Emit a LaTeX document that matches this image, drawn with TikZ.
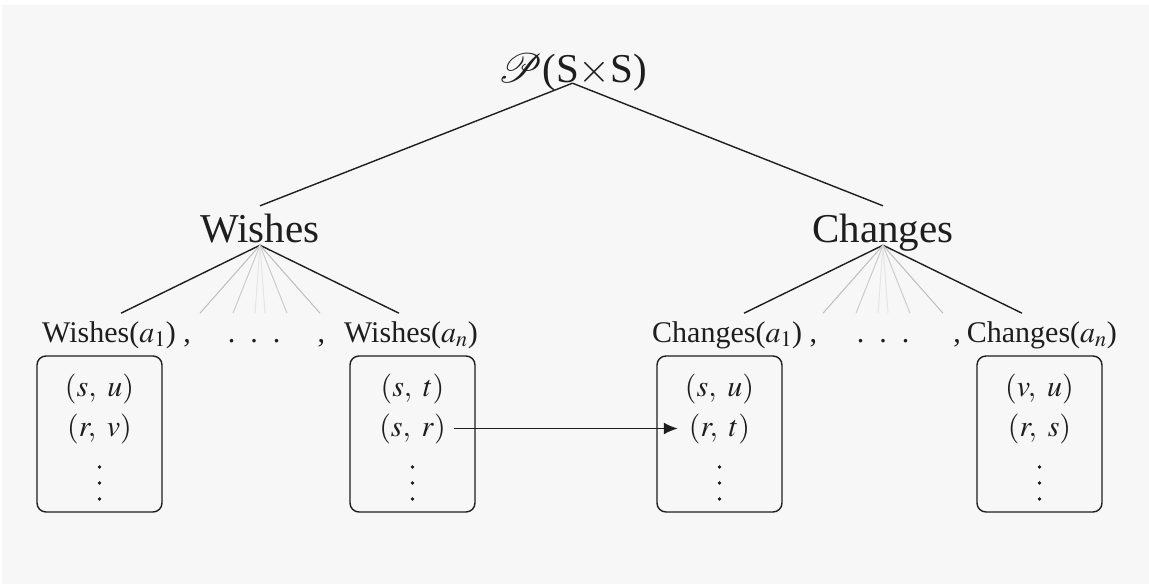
\documentclass[tikz,border=0pt]{standalone}
\usepackage{mathptmx}
\usepackage[no-math]{fontspec}
\setmainfont{Liberation Serif}
\usetikzlibrary{arrows.meta}
\definecolor{bgcolor}{HTML}{F7F7F7}
\definecolor{inkcolor}{HTML}{1E1E1E}

\begin{document}
\begin{tikzpicture}[x=1pt,y=-1pt,every node/.style={text=inkcolor},
top/.style={font=\fontsize{41}{48}\selectfont, inner sep=1pt, text depth=0pt},
head/.style={font=\fontsize{41}{48}\selectfont, inner sep=3pt, text depth=0pt, text height=33pt},
lab/.style={font=\fontsize{30}{36}\selectfont, inner sep=0pt},
pair/.style={font=\fontsize{30}{36}\selectfont, inner sep=3pt},
setbox/.style={draw=inkcolor, line width=1.4pt, rounded corners=9pt, minimum width=125pt, minimum height=156pt},
branch/.style={draw=inkcolor, line width=1.4pt},
fanout/.style={draw=black!26, line width=1pt},
fanmid/.style={draw=black!20, line width=1pt},
fanin/.style={draw=black!10, line width=1pt},
move/.style={draw=inkcolor, line width=1.6pt, -{Latex[length=14pt,width=12pt]}, shorten <=5pt, shorten >=8pt}]
\fill[white] (0,0) rectangle (1149,584);
\fill[bgcolor] (2,5) rectangle (1149,584);
\useasboundingbox (0,0) rectangle (1149,584);

\node[top, anchor=base] (root) at (572.5,82) {$\mathcal{P}$(S$\times$S)};
\node[head, anchor=base] (wishes) at (260,242) {Wishes};
\node[head, anchor=base] (changes) at (883,242) {Changes};
\draw[branch] (root.south) -- (wishes.north);
\draw[branch] (root.south) -- (changes.north);

\node[lab, anchor=base west] (wa1) at (42,342) {Wishes($a_1$) ,};
\node[lab, anchor=base] (wdots) at (254,342) {.\hspace{15pt}.\hspace{15pt}.};
\node[lab, anchor=base east] (wan) at (478,342) {,\hspace{19pt}Wishes($a_n$)};
\node[lab, anchor=base west] (ca1) at (652,342) {Changes($a_1$) ,};
\node[lab, anchor=base] (cdots) at (883,342) {.\hspace{15pt}.\hspace{15pt}.};
\node[lab, anchor=base east] (can) at (1117,342) {,\hspace{6pt}Changes($a_n$)};

\foreach \top in {wishes,changes}{
  \draw[branch] (\top.south) -- ++(-139,68);
  \draw[branch] (\top.south) -- ++(139,68);
  \foreach \dx/\tone in {-60/fanout,-27/fanmid,-5/fanin,5/fanin,27/fanmid,60/fanout}
    \draw[\tone] (\top.south) -- ++(\dx,68);
}

\node[setbox] (b1) at (99.5,434) {};
\node[setbox] (b2) at (412.5,434) {};
\node[setbox] (b3) at (719.5,434) {};
\node[setbox] (b4) at (1039.5,434) {};

\node[pair, anchor=base] (p1a) at (99.5,396) {$(s,\ u)$};
\node[pair, anchor=base] (p1b) at (99.5,436) {$(r,\ v)$};
\node[pair, anchor=base] (p2a) at (412.5,396) {$(s,\ t)$};
\node[pair, anchor=base] (p2b) at (412.5,436) {$(s,\ r)$};
\node[pair, anchor=base] (p3a) at (719.5,396) {$(s,\ u)$};
\node[pair, anchor=base] (p3b) at (719.5,436) {$(r,\ t)$};
\node[pair, anchor=base] (p4a) at (1039.5,396) {$(v,\ u)$};
\node[pair, anchor=base] (p4b) at (1039.5,436) {$(r,\ s)$};

\foreach \x in {99.5,412.5,719.5,1039.5}
  \foreach \y in {467,483,499}
    \fill[inkcolor] (\x,\y) circle (1.9pt);

\draw[move] (p2b.east) -- (p3b.west);
\end{tikzpicture}
\end{document}
